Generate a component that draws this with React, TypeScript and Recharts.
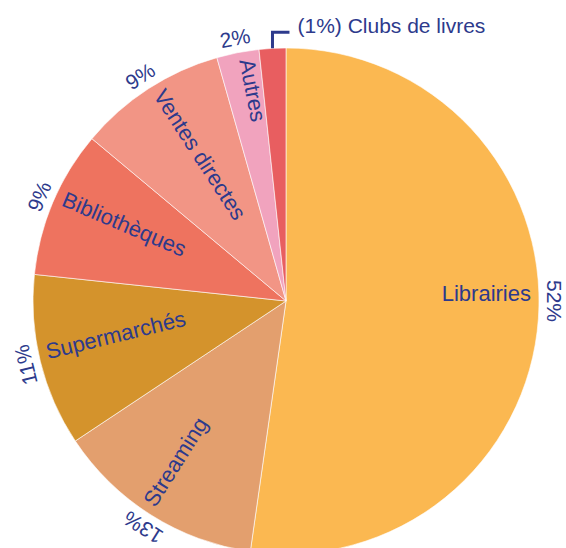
import React from 'react';
import { PieChart, Pie, Cell } from 'recharts';

const categories = ['Librairies', 'Streaming', 'Supermarchés', 'Bibliothèques', 'Ventes directes', 'Autres', 'Clubs de livres'];
const shares = [52.2, 13.4, 11.0, 9.4, 9.5, 2.7, 1.7];
const percentLabels = ['52%', '13%', '11%', '9%', '9%', '2%', '1%'];
const colors = ['#FBB851', '#E39F6E', '#D4932C', '#EE735F', '#F29585', '#F1A3BE', '#E85E60'];

const TEXT = '#2D3A8C';
const FONT = '"Liberation Sans", Arial, sans-serif';

const data = categories.map((name, i) => ({ name, value: shares[i], pct: percentLabels[i] }));

const RAD = Math.PI / 180;

const SliceLabel: React.FC<any> = (props) => {
  const { cx, cy, midAngle, outerRadius, startAngle, endAngle, index } = props;
  const sweep = Math.abs(endAngle - startAngle);
  // clockwise angle from 12 o'clock; the big slice gets a horizontal label
  const theta = sweep > 180 ? 90 : 90 - midAngle;
  const t = ((theta % 360) + 360) % 360;
  const pos = (r: number) => ({
    x: cx + Math.sin(t * RAD) * r,
    y: cy - Math.cos(t * RAD) * r,
  });
  const item = data[index];

  // small slice: bracket callout
  if (sweep < 8) {
    const p = pos(outerRadius);
    const top = p.y - 16;
    return (
      <g>
        <path d={`M${p.x},${p.y} L${p.x},${top} L${p.x + 17},${top}`} stroke={TEXT} strokeWidth={3} fill="none" />
        <text x={p.x + 25} y={top - 7} fill={TEXT} fontSize={21} fontFamily={FONT} dominantBaseline="central">
          {`(${item.pct}) ${item.name}`}
        </text>
      </g>
    );
  }

  const inner = pos(outerRadius - 8);
  const right = t < 180;
  const phi = right
    ? Math.atan2(-Math.cos(t * RAD), Math.sin(t * RAD)) / RAD
    : Math.atan2(Math.cos(t * RAD), -Math.sin(t * RAD)) / RAD;

  const outer = pos(outerRadius + 15);

  return (
    <g>
      <text
        x={inner.x}
        y={inner.y}
        fill={TEXT}
        fontSize={22}
        fontFamily={FONT}
        textAnchor={right ? 'end' : 'start'}
        transform={`rotate(${phi}, ${inner.x}, ${inner.y})`}
      >
        {item.name}
      </text>
      <text
        x={outer.x}
        y={outer.y}
        fill={TEXT}
        fontSize={21}
        fontFamily={FONT}
        textAnchor="middle"
        dominantBaseline="central"
        transform={`rotate(${t}, ${outer.x}, ${outer.y})`}
      >
        {item.pct}
      </text>
    </g>
  );
};

const App: React.FC = () => {
  return (
    <div style={{ position: 'absolute', left: 0, top: 0, width: 566, height: 548, background: '#fff' }}>
      <PieChart width={566} height={548} margin={{ top: 0, right: 0, bottom: 0, left: 0 }}>
        <Pie
          data={data}
          dataKey="value"
          nameKey="name"
          cx={286}
          cy={301}
          outerRadius={253}
          startAngle={90}
          endAngle={-270}
          stroke="#ffffff"
          strokeWidth={0.6}
          label={<SliceLabel />}
          labelLine={false}
          isAnimationActive={false}
        >
          {data.map((d, i) => (
            <Cell key={d.name} fill={colors[i]} />
          ))}
        </Pie>
      </PieChart>
    </div>
  );
};

export default App;
